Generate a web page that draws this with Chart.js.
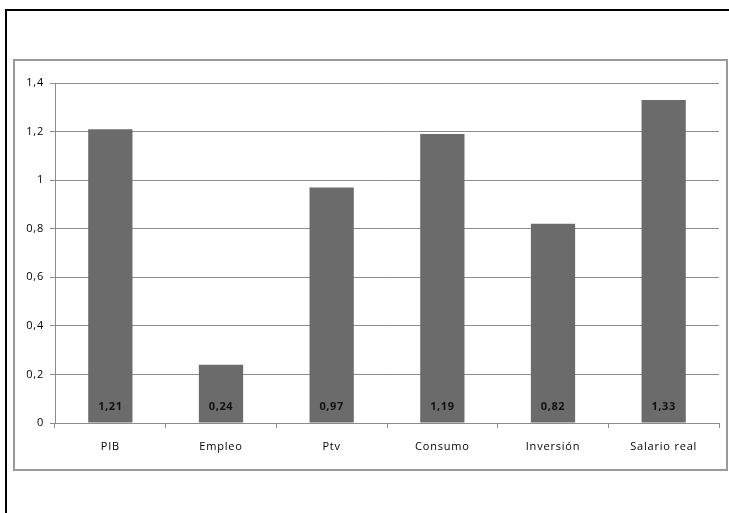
<!DOCTYPE html>
<html>
<head>
<meta charset="utf-8">
<script src="https://cdn.jsdelivr.net/npm/chart.js@4"></script>
<style>
    html, body { margin: 0; background: #fff; overflow: hidden; }
    #page { position: relative; width: 729px; height: 513px; overflow: hidden; }
    #frame { position: absolute; left: 5px; top: 9px; right: -20px; bottom: -20px; border-left: 2px solid #000; border-top: 2px solid #000; }
    #box { position: absolute; left: 13px; top: 59px; width: 711px; height: 408px; border: 2px solid #9a9a9a; }
    #box canvas { display: block; }
</style>
</head>
<body>
<div id="page">
<div id="frame"></div>
<div id="box"><canvas id="chart" width="711" height="408"></canvas></div>
</div>
<script>
const categories = ['PIB', 'Empleo', 'Ptv', 'Consumo', 'Inversión', 'Salario real'];
const values = [1.21, 0.24, 0.97, 1.19, 0.82, 1.33];
const valueLabels = ['1,21', '0,24', '0,97', '1,19', '0,82', '1,33'];

// texto algo espaciado, como en el original
const spacing = {
    id: 'spacing',
    beforeDraw(chart) { chart.ctx.letterSpacing = '0.8px'; }
};

// etiquetas dentro de la barra, abajo
const barLabels = {
    id: 'barLabels',
    afterDatasetsDraw(chart) {
        const ctx = chart.ctx;
        const meta = chart.getDatasetMeta(0);
        const yZero = chart.scales.y.getPixelForValue(0);
        ctx.save();
        ctx.letterSpacing = '0.6px';
        ctx.font = 'bold 11px "Open Sans", sans-serif';
        ctx.fillStyle = '#111';
        ctx.textAlign = 'center';
        ctx.textBaseline = 'middle';
        meta.data.forEach((bar, i) => {
            ctx.fillText(valueLabels[i], bar.x, yZero - 16);
        });
        ctx.restore();
    }
};

new Chart(document.getElementById('chart').getContext('2d'), {
    type: 'bar',
    data: {
        labels: categories,
        datasets: [{
            data: values,
            backgroundColor: '#6b6b6b',
            borderWidth: 0,
            barPercentage: 0.4,
            categoryPercentage: 1
        }]
    },
    options: {
        responsive: false,
        animation: false,
        layout: { padding: { left: 0, right: 7, top: 22, bottom: 0 } },
        plugins: { legend: { display: false }, tooltip: { enabled: false } },
        scales: {
            y: {
                min: 0,
                max: 1.4,
                afterFit(scale) { scale.width = 40; },
                ticks: {
                    stepSize: 0.2,
                    color: '#000',
                    padding: 6,
                    font: { family: '"Open Sans", sans-serif', size: 11 },
                    callback: v => (Math.round(v * 10) / 10).toString().replace('.', ',')
                },
                grid: { color: '#8c8c8c', tickLength: 5, lineWidth: 1 },
                border: { color: '#8c8c8c' }
            },
            x: {
                afterFit(scale) { scale.height = 46; },
                ticks: {
                    color: '#000',
                    padding: 12,
                    font: { family: '"Open Sans", sans-serif', size: 11 }
                },
                grid: { display: true, drawOnChartArea: false, offset: true, color: '#8c8c8c', tickLength: 5 },
                border: { color: '#8c8c8c' }
            }
        }
    },
    plugins: [spacing, barLabels]
});
</script>
</body>
</html>
